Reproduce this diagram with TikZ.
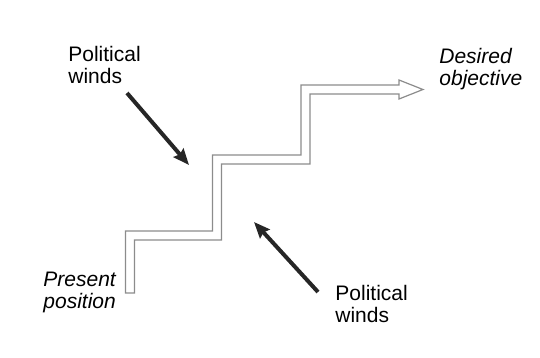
\documentclass[tikz,border=0pt]{standalone}
\usepackage{fontspec}
\setmainfont{Liberation Sans}
\usetikzlibrary{arrows.meta,positioning}

\tikzset{
  lbl/.style={inner sep=0pt, align=left, anchor=north west, font=\fontsize{10.5}{11}\selectfont},
  wind/.style={-{Stealth[length=8pt,width=6.5pt,inset=1pt]}, line width=2pt, black!85},
  stair/.style={draw=black!45, line width=0.6pt, fill=white, line join=miter}
}

\begin{document}
\begin{tikzpicture}[x=0.5pt, y=-0.5pt]
  \useasboundingbox (0,0) rectangle (540,358);
  % labels
  \node[lbl] (windtop) at (68,46) {Political\\winds};
  \node[lbl] (windbot) at (335,285) {Political\\winds};
  \node[lbl, font=\fontsize{10.5}{11}\selectfont\itshape] (goal) at (439,48) {Desired\\objective};
  \node[lbl, font=\fontsize{10.5}{11}\selectfont\itshape] (start) at (43,272) {Present\\position};
  % staircase (double outline with open head)
  \draw[stair] (125.5,293) -- (125.5,231) -- (212.5,231) -- (212.5,155)
    -- (301,155) -- (301,85) -- (399,85) -- (399,80) -- (423,89.5)
    -- (399,99) -- (399,94) -- (310,94) -- (310,164) -- (221.5,164)
    -- (221.5,240) -- (134.5,240) -- (134.5,293) -- cycle;
  % winds
  \coordinate (wa) at (127,93);
  \coordinate (wb) at (189,165);
  \coordinate (wc) at (318,292);
  \coordinate (wd) at (254,222);
  \draw[wind] (wa) -- (wb);
  \draw[wind] (wc) -- (wd);
\end{tikzpicture}
\end{document}
